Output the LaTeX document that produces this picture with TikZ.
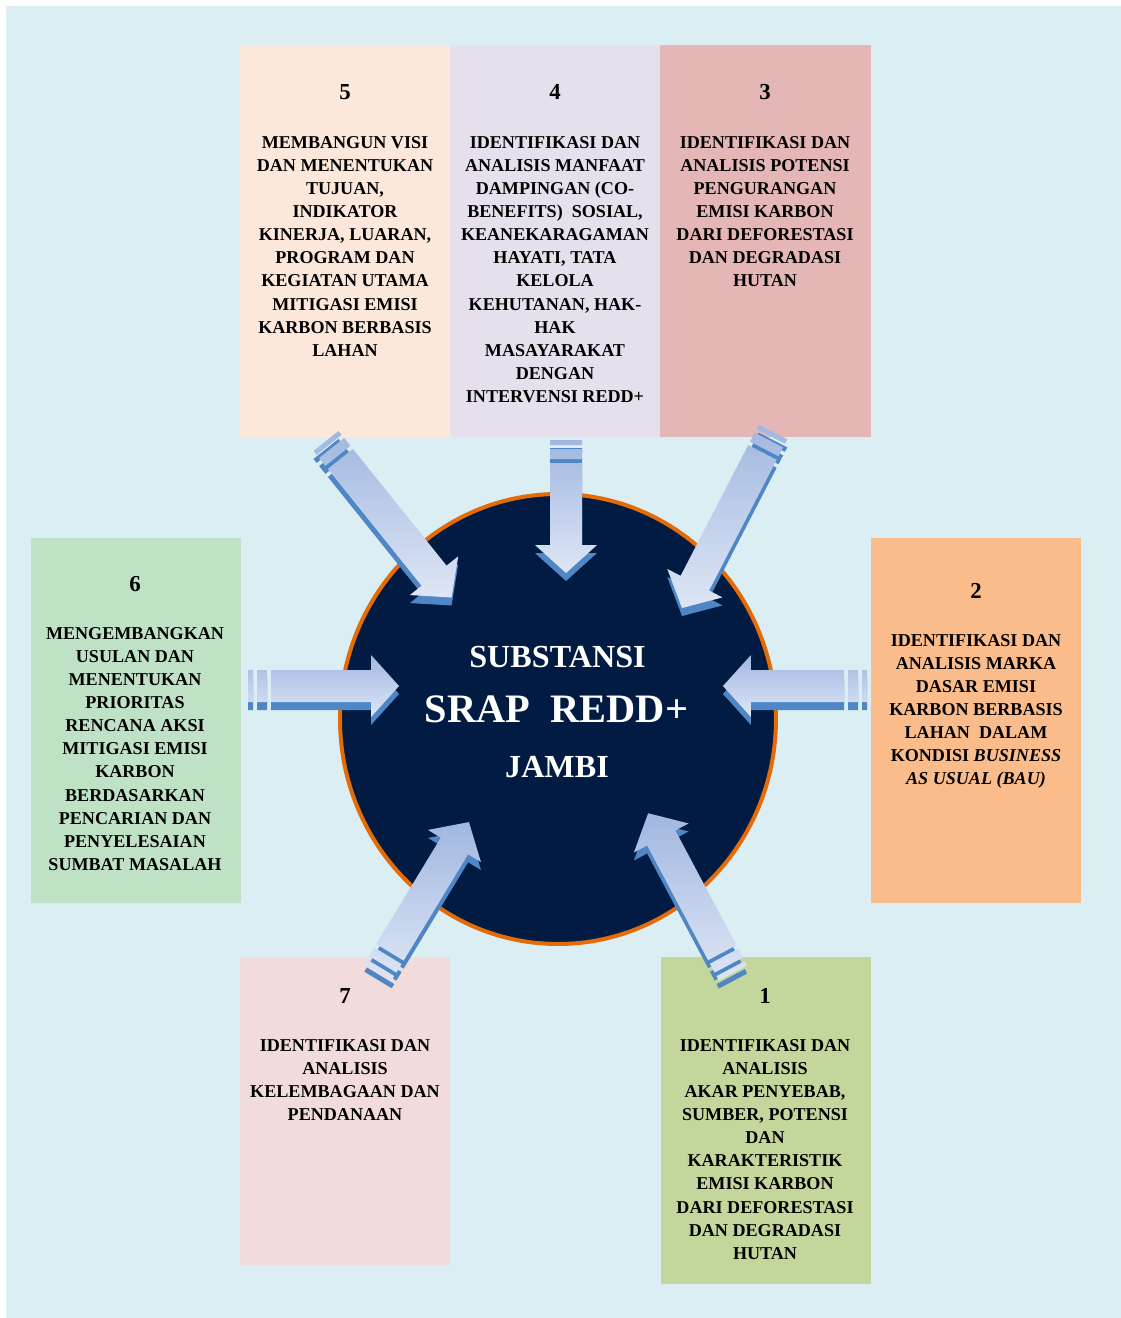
\documentclass[tikz,border=0pt]{standalone}
\usepackage{fontspec}
\setmainfont{Liberation Serif}
\usetikzlibrary{calc}

\definecolor{pagebg}{HTML}{DAEEF3}
\definecolor{boxonecol}{HTML}{C3D69B}
\definecolor{boxtwocol}{HTML}{FABC8A}
\definecolor{boxthreecol}{HTML}{E5B6B6}
\definecolor{boxfourcol}{HTML}{E5E0EC}
\definecolor{boxfivecol}{HTML}{FCE8DA}
\definecolor{boxsixcol}{HTML}{BFE2C6}
\definecolor{boxsevencol}{HTML}{F2DCDB}
\definecolor{hubfill}{HTML}{011B42}
\definecolor{hubline}{HTML}{E36C09}
\definecolor{arrowtop}{HTML}{A1B7E0}
\definecolor{arrowbot}{HTML}{DEE6F5}
\definecolor{arrowdark}{HTML}{4F87C6}

\tikzset{
  boxtext/.style={align=center, inner sep=0pt, anchor=north, font=\bfseries\fontsize{10.3}{13.15}\selectfont},
  boxnum/.style={inner sep=0pt, font=\bfseries\fontsize{13}{15}\selectfont},
  hubtext/.style={text=white, inner sep=0pt, anchor=base, font=\bfseries\fontsize{18.3}{22}\selectfont}
}

% striped block arrow, tail #1 to tip #2
\newcommand{\stripearrow}[2]{%
  \path (#1); \pgfgetlastxy{\tailx}{\taily}
  \path (#2); \pgfgetlastxy{\tipx}{\tipy}
  \pgfmathsetmacro{\arrang}{atan2(\tipy-\taily,\tipx-\tailx)}
  \pgfmathsetmacro{\arrlen}{veclen(\tipx-\tailx,\tipy-\taily)/0.569055}
  \pgfmathsetmacro{\arrbase}{\arrlen-28}
  \begin{scope}[shift={($(#1)+(0,8)$)}, rotate=\arrang]
    \fill[arrowdark] (0,-16) rectangle (5,16) (9,-16) rectangle (19,16)
      (23,-16) -- (\arrbase,-16) -- (\arrbase,-31) -- (\arrlen,0) -- (\arrbase,31) -- (\arrbase,16) -- (23,16) -- cycle;
  \end{scope}
  \begin{scope}[shift={(#1)}, rotate=\arrang]
    \foreach \n/\t/\s in {1/0/-16, 2/5/-16, 3/5/16, 4/0/16, 5/9/-16, 6/19/-16, 7/19/16, 8/9/16,
      9/23/-16, 10/\arrbase/-16, 11/\arrbase/-31, 12/\arrlen/0, 13/\arrbase/31, 14/\arrbase/16, 15/23/16}
      \coordinate (q\n) at (\t,\s);
  \end{scope}
  \shade[top color=arrowtop, bottom color=arrowbot] (q1) -- (q2) -- (q3) -- (q4) -- cycle
    (q5) -- (q6) -- (q7) -- (q8) -- cycle
    (q9) -- (q10) -- (q11) -- (q12) -- (q13) -- (q14) -- (q15) -- cycle;
}

\begin{document}
\begin{tikzpicture}[x=0.02cm, y=-0.02cm]
  \useasboundingbox (0,0) rectangle (1121,1318);
  \fill[white] (0,0) rectangle (1121,1318);
  \fill[pagebg] (6,6) rectangle (1121,1318);

  \fill[boxfivecol] (240,45) rectangle (450,437);
  \fill[boxfourcol] (450,45) rectangle (660,437);
  \fill[boxthreecol] (660,45) rectangle (871,437);
  \fill[boxsixcol] (31,538) rectangle (241,903);
  \fill[boxtwocol] (871,538) rectangle (1081,903);
  \fill[boxsevencol] (240,957) rectangle (450,1265);
  \fill[boxonecol] (661,957) rectangle (871,1284);

  \coordinate (hub) at (558,719);
  \draw[fill=hubfill, draw=hubline, line width=0.08cm] (hub) ellipse [x radius=218, y radius=225];

  \coordinate (tail5) at (326,441);  \coordinate (tip5) at (452,598);
  \coordinate (tail4) at (566,440);  \coordinate (tip4) at (566,573);
  \coordinate (tail3) at (773,432);  \coordinate (tip3) at (682,608);
  \coordinate (tail6) at (248,686);  \coordinate (tip6) at (399,686);
  \coordinate (tail2) at (867,686);  \coordinate (tip2) at (723,686);
  \coordinate (tail7) at (378,972);  \coordinate (tip7) at (469,822);
  \coordinate (tail1) at (733,973);  \coordinate (tip1) at (648,813);

  \foreach \k in {1,...,7} {\stripearrow{tail\k}{tip\k}}

  \node[hubtext] (hubtop) at (557.5,667) {SUBSTANSI};
  \node[hubtext, font=\bfseries\fontsize{23}{26}\selectfont] (hubmid) at (556.5,722) {SRAP\ \ REDD+};
  \node[hubtext] (hubbot) at (557,777) {JAMBI};

  \node[boxnum] (n5) at (345,92) {5};
  \node[boxnum] (n4) at (555,92) {4};
  \node[boxnum] (n3) at (765,92) {3};
  \node[boxnum] (n6) at (135,584) {6};
  \node[boxnum] (n2) at (976,591) {2};
  \node[boxnum] (n7) at (345,996) {7};
  \node[boxnum] (n1) at (765,996) {1};

  \node[boxtext] (t5) at (345,136) {MEMBANGUN VISI\\DAN MENENTUKAN\\TUJUAN,\\INDIKATOR\\KINERJA, LUARAN,\\PROGRAM DAN\\KEGIATAN UTAMA\\MITIGASI EMISI\\KARBON BERBASIS\\LAHAN};
  \node[boxtext] (t4) at (555,136) {IDENTIFIKASI DAN\\ANALISIS MANFAAT\\DAMPINGAN (CO-\\BENEFITS)\ \ SOSIAL,\\KEANEKARAGAMAN\\HAYATI, TATA\\KELOLA\\KEHUTANAN, HAK-\\HAK\\MASAYARAKAT\\DENGAN\\INTERVENSI REDD+};
  \node[boxtext] (t3) at (765,136) {IDENTIFIKASI DAN\\ANALISIS POTENSI\\PENGURANGAN\\EMISI KARBON\\DARI DEFORESTASI\\DAN DEGRADASI\\HUTAN};
  \node[boxtext] (t6) at (135,627) {MENGEMBANGKAN\\USULAN DAN\\MENENTUKAN\\PRIORITAS\\RENCANA AKSI\\MITIGASI EMISI\\KARBON\\BERDASARKAN\\PENCARIAN DAN\\PENYELESAIAN\\SUMBAT MASALAH};
  \node[boxtext] (t2) at (976,634) {IDENTIFIKASI DAN\\ANALISIS MARKA\\DASAR EMISI\\KARBON BERBASIS\\LAHAN\ \ DALAM\\KONDISI \textit{BUSINESS}\\\textit{AS USUAL (BAU)}};
  \node[boxtext] (t7) at (345,1039) {IDENTIFIKASI DAN\\ANALISIS\\KELEMBAGAAN DAN\\PENDANAAN};
  \node[boxtext] (t1) at (765,1039) {IDENTIFIKASI DAN\\ANALISIS\\AKAR PENYEBAB,\\SUMBER, POTENSI\\DAN\\KARAKTERISTIK\\EMISI KARBON\\DARI DEFORESTASI\\DAN DEGRADASI\\HUTAN};
\end{tikzpicture}
\end{document}
